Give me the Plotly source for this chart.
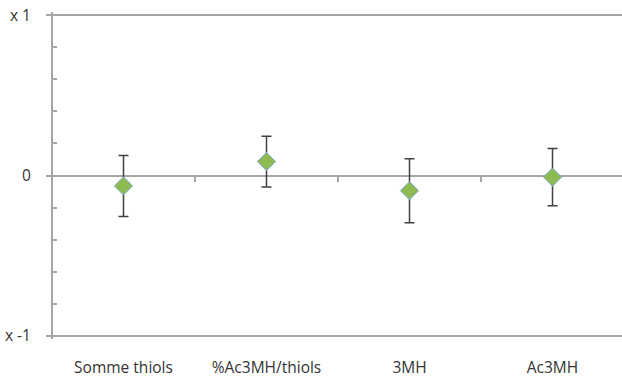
import plotly.graph_objects as go

categories = ["Somme thiols", "%Ac3MH/thiols", "3MH", "Ac3MH"]
values = [-0.065, 0.087, -0.095, -0.01]
errors = [0.19, 0.158, 0.2, 0.178]
y_tick_vals = [-1, 0, 1]
y_tick_text = ["x -1", "0", "x 1"]
y_minor_vals = [-0.8, -0.6, -0.4, -0.2, 0.2, 0.4, 0.6, 0.8]

fig = go.Figure()

fig.add_trace(go.Scatter(
    x=categories, y=values, mode="markers",
    marker=dict(symbol="diamond", size=14, color="#8DBB4F",
                line=dict(color="#7FA8D8", width=1)),
    error_y=dict(type="data", array=errors, visible=True,
                 color="#404040", thickness=1.5, width=5),
    showlegend=False,
))

# invisible traces on helper axes so their tick marks render
fig.add_trace(go.Scatter(x=[0], y=[0], xaxis="x2", mode="markers",
                         marker=dict(opacity=0), showlegend=False, hoverinfo="skip"))
fig.add_trace(go.Scatter(x=[0], y=[0], yaxis="y2", mode="markers",
                         marker=dict(opacity=0), showlegend=False, hoverinfo="skip"))

axis_grey = "#a6a6a6"
font = dict(family="Open Sans, Liberation Sans, sans-serif", size=15.5, color="#333333")
yr = [-1.02, 1.02]
xr = [-0.5, 3.486]

fig.update_layout(
    width=622, height=378,
    margin=dict(l=52, r=0, t=12, b=39),
    paper_bgcolor="white", plot_bgcolor="white",
    font=font,
    xaxis=dict(
        type="category", range=xr,
        showgrid=False, showline=False, zeroline=False, ticks="",
        tickfont=font, ticklabelstandoff=17,
    ),
    xaxis2=dict(
        overlaying="x", anchor="free", position=0.5,
        range=xr, tickvals=[0.5, 1.5, 2.5],
        ticks="outside", ticklen=5, tickcolor=axis_grey, tickwidth=1.5,
        showticklabels=False, showgrid=False, zeroline=False, showline=False,
    ),
    yaxis=dict(
        range=yr, tickvals=y_tick_vals, ticktext=y_tick_text,
        showgrid=True, gridcolor=axis_grey, gridwidth=1.5,
        zeroline=True, zerolinecolor=axis_grey, zerolinewidth=1.5,
        showline=False,
        ticks="outside", ticklen=5, tickcolor=axis_grey, tickwidth=1.5,
        ticklabelstandoff=12, tickfont=font,
    ),
    # vertical axis line with the small inward ticks every 0.2
    yaxis2=dict(
        overlaying="y", side="right", anchor="free", position=0,
        range=yr, tickvals=y_minor_vals,
        ticks="outside", ticklen=4, tickcolor=axis_grey, tickwidth=1.5,
        showticklabels=False, showgrid=False, zeroline=False,
        showline=True, linecolor=axis_grey, linewidth=1.5,
    ),
)

fig.write_html("out.html")
